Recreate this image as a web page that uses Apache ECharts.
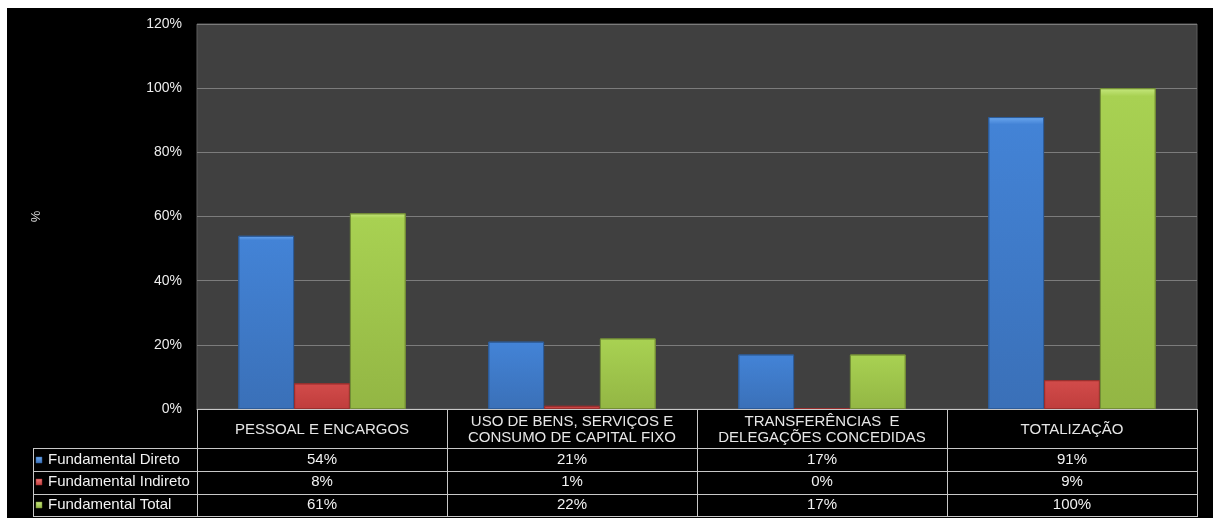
<!DOCTYPE html>
<html>
<head>
<meta charset="utf-8">
<script src="https://cdn.jsdelivr.net/npm/echarts@6/dist/echarts.min.js"></script>
<style>
  html, body { margin: 0; padding: 0; background: #ffffff; }
  #chart { position: absolute; left: 7px; top: 8px; width: 1206px; height: 510px; background: #000000; }
</style>
</head>
<body>
<div id="chart"></div>
<script>
// Categories (header row of the data table)
const categories = [
  'PESSOAL E ENCARGOS',
  'USO DE BENS, SERVIÇOS E\nCONSUMO DE CAPITAL FIXO',
  'TRANSFERÊNCIAS  E\nDELEGAÇÕES CONCEDIDAS',
  'TOTALIZAÇÃO'
];
// Series names and values in percent
const seriesNames = ['Fundamental Direto', 'Fundamental Indireto', 'Fundamental Total'];
const direto = [54, 21, 17, 91];
const indireto = [8, 1, 0, 9];
const total = [61, 22, 17, 100];
const yTicks = [0, 20, 40, 60, 80, 100, 120];

const seriesValues = [direto, indireto, total];

// Bar palette: highlight, face top, face bottom, edge
const palette = [
  { hi: '#6CA8EF', top: '#4383D6', bottom: '#3A70B8', edge: '#2D5C9A' },
  { hi: '#F27878', top: '#D24B4A', bottom: '#BF3D3C', edge: '#9A2F2E' },
  { hi: '#C6E87E', top: '#A8D152', bottom: '#93B644', edge: '#748F36' }
];

function barFill(p) {
  return new echarts.graphic.LinearGradient(0, 0, 0, 1, [
    { offset: 0, color: p.hi },
    { offset: 0.025, color: p.top },
    { offset: 1, color: p.bottom }
  ]);
}

const FONT = '"Liberation Sans", Arial, sans-serif';
const LINE = '#c8c8c8';

const chart = echarts.init(document.getElementById('chart'), null, { renderer: 'canvas' });

const grid = { left: 190, right: 16, top: 16, bottom: 109 };

chart.setOption({
  animation: false,
  grid: Object.assign({ show: true, backgroundColor: '#404040', borderColor: '#5c5c5c', borderWidth: 1 }, grid),
  xAxis: {
    type: 'category',
    data: categories,
    axisLine: { show: true, lineStyle: { color: LINE, width: 1 } },
    axisTick: { show: true, length: 108, lineStyle: { color: LINE, width: 1 } },
    axisLabel: {
      color: '#e6e6e6', fontFamily: FONT, fontSize: 15, lineHeight: 16,
      margin: 21, verticalAlign: 'middle', interval: 0, align: 'center'
    },
    splitLine: { show: false }
  },
  yAxis: {
    type: 'value',
    min: yTicks[0],
    max: yTicks[yTicks.length - 1],
    interval: yTicks[1] - yTicks[0],
    name: '%',
    nameLocation: 'middle',
    nameRotate: 90,
    nameGap: 154,
    nameTextStyle: { color: '#d8d8d8', fontFamily: FONT, fontSize: 13 },
    axisLine: { show: false },
    axisTick: { show: false },
    axisLabel: { color: '#ececec', fontFamily: FONT, fontSize: 14, margin: 15, formatter: '{value}%' },
    splitLine: { show: true, lineStyle: { color: '#7c7c7c', width: 1 } }
  },
  series: seriesNames.map((name, i) => ({
    name: name,
    type: 'bar',
    data: seriesValues[i],
    barGap: '0%',
    barCategoryGap: '33%',
    barMinHeight: i === 1 ? 1 : 0,
    itemStyle: { color: barFill(palette[i]), borderColor: palette[i].edge, borderWidth: 1 }
  }))
});

// Data table below the plot, positioned from the category axis
function buildTable() {
  const centres = categories.map((c, i) => chart.convertToPixel({ xAxisIndex: 0 }, i));
  const step = centres[1] - centres[0];
  const rightEdge = centres[centres.length - 1] + step / 2;
  const axisY = chart.convertToPixel({ yAxisIndex: 0 }, 0);
  const headerBottom = axisY + 39.3;
  const rowH = 22.7;
  const labelLeft = 26;
  const els = [];
  const crisp = v => Math.round(v) + 0.5;

  // horizontal rules of the value rows
  for (let r = 0; r <= seriesNames.length; r++) {
    const y = crisp(headerBottom + r * rowH);
    els.push({ type: 'line', shape: { x1: labelLeft, y1: y, x2: rightEdge, y2: y },
      style: { stroke: LINE, lineWidth: 1 }, silent: true });
  }
  // left edge of the series-name column
  els.push({ type: 'line', shape: { x1: crisp(labelLeft), y1: headerBottom, x2: crisp(labelLeft), y2: headerBottom + rowH * seriesNames.length },
    style: { stroke: LINE, lineWidth: 1 }, silent: true });

  seriesNames.forEach((name, r) => {
    const cy = headerBottom + r * rowH + rowH / 2;
    const p = palette[r];
    els.push({ type: 'rect', shape: { x: labelLeft + 3, y: Math.round(cy) - 3, width: 6, height: 6 },
      style: { fill: new echarts.graphic.LinearGradient(0, 0, 0, 1, [
        { offset: 0, color: p.hi }, { offset: 1, color: p.bottom }]), stroke: p.edge, lineWidth: 0.5 }, silent: true });
    els.push({ type: 'text', x: labelLeft + 15, y: cy,
      style: { text: name, fill: '#f2f2f2', font: '15px ' + FONT, textVerticalAlign: 'middle', textAlign: 'left' }, silent: true });
    seriesValues[r].forEach((v, c) => {
      els.push({ type: 'text', x: centres[c], y: cy,
        style: { text: v + '%', fill: '#f2f2f2', font: '15px ' + FONT, textVerticalAlign: 'middle', textAlign: 'center' }, silent: true });
    });
  });

  chart.setOption({ graphic: { elements: els } });
}
buildTable();
</script>
</body>
</html>
